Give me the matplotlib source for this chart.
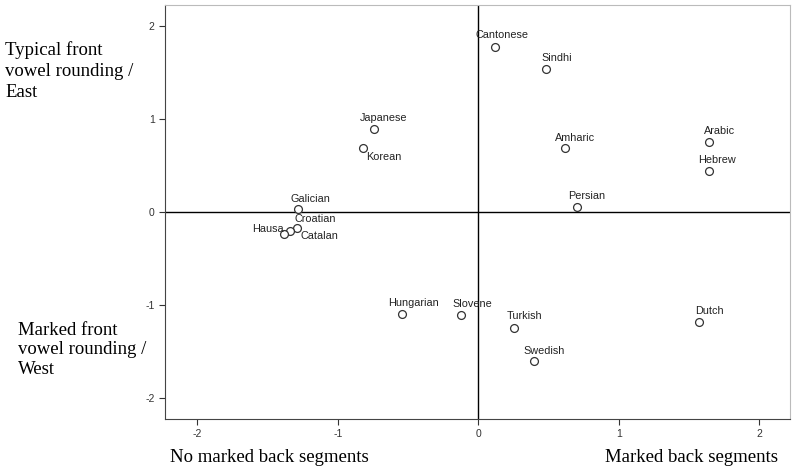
import matplotlib.pyplot as plt

plt.rcParams["axes.unicode_minus"] = False

languages = ["Cantonese", "Sindhi", "Japanese", "Korean", "Amharic", "Arabic",
             "Hebrew", "Persian", "Galician", "Croatian", "Hausa", "Catalan",
             "Hungarian", "Slovene", "Turkish", "Swedish", "Dutch"]
dim1 = [0.12, 0.48, -0.745, -0.82, 0.62, 1.64,
        1.64, 0.70, -1.28, -1.29, -1.34, -1.38,
        -0.54, -0.12, 0.255, 0.40, 1.57]
dim2 = [1.78, 1.54, 0.89, 0.69, 0.69, 0.75,
        0.44, 0.05, 0.03, -0.17, -0.20, -0.24,
        -1.10, -1.11, -1.25, -1.60, -1.18]

xticks = [-2, -1, 0, 1, 2]
yticks = [-2, -1, 0, 1, 2]

# label offsets in pixels (left edge, vertical centre) relative to the marker
offsets = {
    "Cantonese": (-20, 12), "Sindhi": (-4, 11), "Japanese": (-14, 11),
    "Korean": (3, -9), "Amharic": (-10, 10), "Arabic": (-5, 11),
    "Hebrew": (-10, 11), "Persian": (-8, 11), "Galician": (-8, 10),
    "Croatian": (-3, 9), "Hausa": (-6, 2), "Catalan": (16, -2),
    "Hungarian": (-14, 11), "Slovene": (-9, 11), "Turkish": (-7, 12),
    "Swedish": (-11, 10), "Dutch": (-4, 11),
}

fig = plt.figure(figsize=(7.95, 4.74), dpi=100)
ax = fig.add_axes([165 / 795, 1 - 419 / 474, 625 / 795, 414 / 474])

ax.axhline(0, color="black", lw=1.0, zorder=1)
ax.axvline(0, color="black", lw=1.0, zorder=1)

ax.scatter(dim1, dim2, s=32, facecolors="white", edgecolors="#333333",
           linewidths=0.9, zorder=3)

for name, x, y in zip(languages, dim1, dim2):
    dx, dy = offsets[name]
    ax.annotate(name, (x, y), xytext=(dx, dy), textcoords="offset pixels",
                ha="right" if name == "Hausa" else "left", va="center",
                fontsize=7.8, color="#222222",
                family="Liberation Sans", zorder=4)

ax.set_xlim(-2.23, 2.22)
ax.set_ylim(-2.23, 2.23)
ax.set_xticks(xticks)
ax.set_yticks(yticks)
ax.tick_params(labelsize=7.5, colors="#333333", length=4, width=0.8)
for lab in ax.get_xticklabels() + ax.get_yticklabels():
    lab.set_family("Liberation Sans")

ax.spines["left"].set_color("#444444")
ax.spines["bottom"].set_color("#444444")
ax.spines["top"].set_color("#bbbbbb")
ax.spines["right"].set_color("#bbbbbb")

serif = dict(family="Liberation Serif", fontsize=13.5, color="black")
fig.text(5 / 795, 1 - 71 / 474, "Typical front\nvowel rounding /\nEast",
         ha="left", va="center", linespacing=1.3, **serif)
fig.text(18 / 795, 1 - 350 / 474, "Marked front\nvowel rounding /\nWest",
         ha="left", va="center", linespacing=1.22, **serif)
fig.text(170 / 795, 1 - 458 / 474, "No marked back segments",
         ha="left", va="center", **serif)
fig.text(778 / 795, 1 - 458 / 474, "Marked back segments",
         ha="right", va="center", **serif)

fig.savefig("out.png", dpi=100)
